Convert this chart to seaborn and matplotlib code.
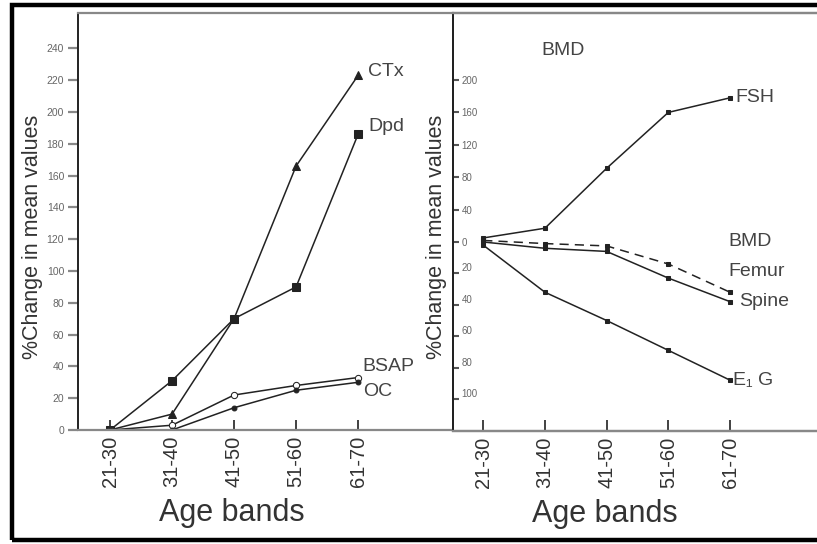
import matplotlib
matplotlib.use("Agg")
import matplotlib.pyplot as plt
from matplotlib.patches import Rectangle
import numpy as np
import seaborn as sns

# age bands on the x axis of both panels
ages = ["21-30", "31-40", "41-50", "51-60", "61-70"]

# left panel: bone markers, % change
ctx = [0, 10, 70, 166, 223]
dpd = [0, 31, 70, 90, 186]
bsap = [0, 3, 22, 28, 33]
oc = [0, 0, 14, 25, 30]

# right panel: FSH on the upper scale, BMD and E1G on the lower scale
fsh = [5, 17, 91, 160, 178]
femur = [1, -1, -2.5, -14, -32]
spine = [0, -4, -6, -23, -38]
e1g = [-2, -32, -50, -69, -88]

left_ticks = list(range(0, 241, 20))
fsh_ticks = [0, 40, 80, 120, 160, 200]
bmd_ticks = [-20, -40, -60, -80, -100]

W, H = 817, 544
sns.set_theme(style="white")
plt.rcParams["font.family"] = ["Liberation Sans", "DejaVu Sans"]

LINE = "#222222"
TEXT = "#444444"
TICK = "#666666"
SPINE = "#888888"

fig = plt.figure(figsize=(W / 100, H / 100), dpi=100)
fig.patch.set_facecolor("white")


def fx(px):
    return px / W


def fy(py):
    return 1 - py / H


pos = np.arange(len(ages))

# ---------------- left panel ----------------
axl = fig.add_axes([fx(78), fy(430), fx(453) - fx(78), fy(13) - fy(430)])
axl.set_xlim(-0.516, 5.53)
axl.set_ylim(0, (430 - 13) / 1.59)

sns.lineplot(x=pos, y=ctx, ax=axl, color=LINE, lw=1.1, marker="^", markersize=5.5,
             markeredgecolor=LINE)
sns.lineplot(x=pos, y=dpd, ax=axl, color=LINE, lw=1.1, marker="s", markersize=5.5,
             markeredgecolor=LINE)
sns.lineplot(x=pos, y=bsap, ax=axl, color=LINE, lw=1.1, marker="o", markersize=4.5,
             markerfacecolor="white", markeredgecolor=LINE)
sns.lineplot(x=pos, y=oc, ax=axl, color=LINE, lw=1.1, marker="o", markersize=3.5,
             markeredgecolor=LINE)

axl.set_yticks(left_ticks)
axl.set_yticklabels([str(t) for t in left_ticks], fontsize=7.5, color=TICK)
axl.tick_params(axis="y", direction="out", length=7, width=1.6, color=SPINE, pad=3,
                left=True)
axl.set_xticks(pos)
axl.set_xticklabels(ages, rotation=90, fontsize=14.5, color="#333333")
axl.tick_params(axis="x", direction="in", length=7, width=1.3, color="#333333", pad=4,
                bottom=True)
axl.set_xlabel("")
axl.set_ylabel("")
for side in ["top", "bottom"]:
    axl.spines[side].set_color(SPINE)
    axl.spines[side].set_linewidth(1.6)
axl.spines["left"].set_color("#222222")
axl.spines["left"].set_linewidth(1.4)
axl.spines["right"].set_visible(False)

def label(ax, txt, x, y, dx, dy):
    ax.annotate(txt, xy=(x, y), xytext=(dx, dy), textcoords="offset pixels",
                fontsize=14, color=TEXT, ha="left", va="center")

label(axl, "CTx", 4, ctx[-1], 10, 4)
label(axl, "Dpd", 4, dpd[-1], 10, 8)
label(axl, "BSAP", 4, bsap[-1], 4, 11)
label(axl, "OC", 4, oc[-1], 5, -9)

# ---------------- right panel ----------------
axr = fig.add_axes([fx(453), fy(431), 1 - fx(453), fy(13) - fy(431)])
axr.set_xlim(-0.49, 5.41)
axr.set_ylim(-(431 - 242) / 0.81, (242 - 13) / 0.81)
axb = axr.twinx()
axb.set_ylim(-(431 - 242) / 1.57, (242 - 13) / 1.57)

sns.lineplot(x=pos, y=fsh, ax=axr, color=LINE, lw=1.1, marker="s", markersize=3,
             markeredgecolor=LINE)
sns.lineplot(x=pos, y=femur, ax=axb, color=LINE, lw=1.1, marker="s", markersize=3,
             markeredgecolor=LINE, linestyle=(0, (6, 4)))
sns.lineplot(x=pos, y=spine, ax=axb, color=LINE, lw=1.1, marker="s", markersize=3,
             markeredgecolor=LINE)
sns.lineplot(x=pos, y=e1g, ax=axb, color=LINE, lw=1.1, marker="s", markersize=3,
             markeredgecolor=LINE)

axr.set_yticks(fsh_ticks)
axr.set_yticklabels([str(t) for t in fsh_ticks], fontsize=7, color=TICK)
axr.tick_params(axis="y", direction="in", length=4, width=1.5, color="#555555", pad=-6,
                left=True)
for t in axr.get_yticklabels():
    t.set_ha("left")

axb.yaxis.tick_left()
axb.set_yticks(bmd_ticks)
axb.set_yticklabels([str(-t) for t in bmd_ticks], fontsize=7, color=TICK)
axb.tick_params(axis="y", direction="in", length=4, width=1.5, color="#555555", pad=-6,
                left=True, right=False)
for t in axb.get_yticklabels():
    t.set_ha("left")
    t.set_va("bottom")

axr.set_xticks(pos)
axr.set_xticklabels(ages, rotation=90, fontsize=14.5, color="#333333")
axr.tick_params(axis="x", direction="in", length=8, width=1.3, color="#333333", pad=4,
                bottom=True)
for a in (axr, axb):
    a.set_xlabel("")
    a.set_ylabel("")
    a.spines["right"].set_visible(False)
    a.spines["top"].set_color(SPINE)
    a.spines["top"].set_linewidth(1.6)
    a.spines["bottom"].set_color(SPINE)
    a.spines["bottom"].set_linewidth(1.6)
    a.spines["left"].set_color("#222222")
    a.spines["left"].set_linewidth(1.4)

label(axr, "FSH", 4, fsh[-1], 5, 0)
label(axb, "Spine", 4, spine[-1], 9, 0)
label(axb, "E\u2081 G", 4, e1g[-1], 3, 0)
axr.text(3.98, 0, "BMD", fontsize=14, color=TEXT, ha="left", va="center")
axb.text(3.98, -19, "Femur", fontsize=14, color=TEXT, ha="left", va="center")
axr.text(1.29, 237, "BMD", fontsize=14, color=TEXT, ha="center", va="center")

# axis titles
fig.text(fx(33), fy(237), "%Change in mean values", rotation=90, fontsize=15.5,
         color="#333333", ha="center", va="center")
fig.text(fx(437), fy(237), "%Change in mean values", rotation=90, fontsize=15.5,
         color="#333333", ha="center", va="center")
fig.text(fx(232), fy(513), "Age bands", fontsize=22, color="#333333",
         ha="center", va="center")
fig.text(fx(605), fy(514), "Age bands", fontsize=22, color="#333333",
         ha="center", va="center")

# outer frame
fig.patches.append(Rectangle((fx(12), fy(540)), 1.05, fy(5) - fy(540),
                             transform=fig.transFigure, fill=False,
                             edgecolor="black", lw=3.2, clip_on=False))

fig.savefig("out.png", dpi=100)
